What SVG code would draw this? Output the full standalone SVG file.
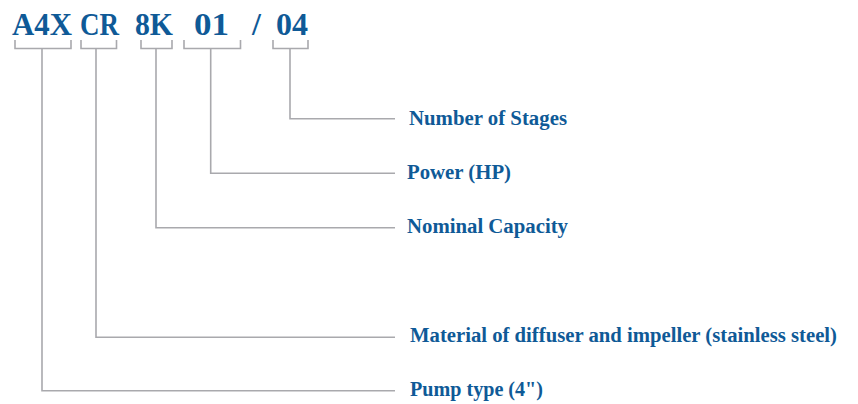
<svg xmlns="http://www.w3.org/2000/svg" width="858" height="404" viewBox="0 0 858 404">
<style>
.code{font-family:"Liberation Serif","Times New Roman",serif;font-weight:bold;font-size:32px;fill:#0f5a97}
.lbl{font-family:"Liberation Serif","Times New Roman",serif;font-weight:bold;font-size:20px;fill:#0f5a97}
.ln{fill:none;stroke:#a9a9ad;stroke-width:1.6}
</style>
<rect width="858" height="404" fill="#ffffff"/>
<g id="code">
<text class="code" x="12" y="35" textLength="60" lengthAdjust="spacingAndGlyphs">A4X</text>
<text class="code" x="80" y="35" textLength="39" lengthAdjust="spacingAndGlyphs">CR</text>
<text class="code" x="135" y="35" textLength="38" lengthAdjust="spacingAndGlyphs">8K</text>
<text class="code" x="194" y="35" textLength="35" lengthAdjust="spacingAndGlyphs">01</text>
<text class="code" x="252" y="35">/</text>
<text class="code" x="276" y="35" textLength="32" lengthAdjust="spacingAndGlyphs">04</text>
</g>
<g id="connectors">
<path class="ln" d="M15,40 V48.5 H71 V40"/>
<path class="ln" d="M81,40 V48.5 H116.5 V40"/>
<path class="ln" d="M141,40 V48.5 H172 V40"/>
<path class="ln" d="M184,40 V48.5 H240.5 V40"/>
<path class="ln" d="M273,40 V48.5 H308 V40"/>
<path class="ln" d="M290,48.5 V118.7 H395"/>
<path class="ln" d="M210.7,48.5 V173.3 H395"/>
<path class="ln" d="M156,48.5 V227.7 H395"/>
<path class="ln" d="M96,48.5 V337.3 H395"/>
<path class="ln" d="M42,48.5 V390.7 H395"/>
</g>
<g id="n-stages"><text class="lbl" x="409" y="125" textLength="158" lengthAdjust="spacingAndGlyphs">Number of Stages</text></g>
<g id="n-power"><text class="lbl" x="407" y="179" textLength="104" lengthAdjust="spacingAndGlyphs">Power (HP)</text></g>
<g id="n-capacity"><text class="lbl" x="407" y="233" textLength="161" lengthAdjust="spacingAndGlyphs">Nominal Capacity</text></g>
<g id="n-material"><text class="lbl" x="410" y="342" textLength="427" lengthAdjust="spacingAndGlyphs">Material of diffuser and impeller (stainless steel)</text></g>
<g id="n-pump"><text class="lbl" x="410" y="396" textLength="133" lengthAdjust="spacingAndGlyphs">Pump type (4")</text></g>
</svg>
